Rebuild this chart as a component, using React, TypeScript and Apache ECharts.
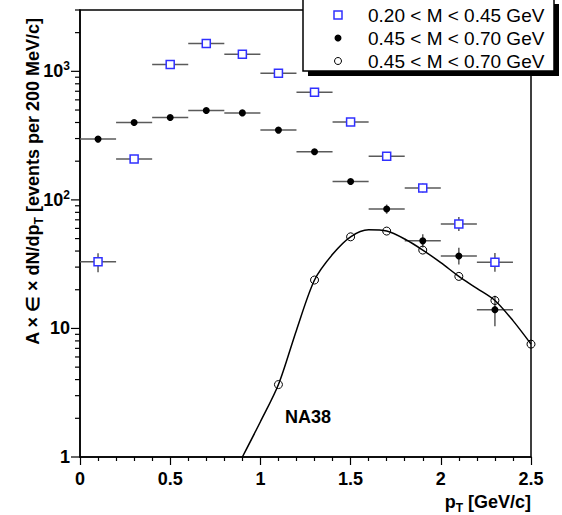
import React, { useEffect, useRef } from "react";
import * as echarts from "echarts";

// ---- data ----
const binCenters = [0.1, 0.3, 0.5, 0.7, 0.9, 1.1, 1.3, 1.5, 1.7, 1.9, 2.1, 2.3];
const binHalfWidth = 0.1;

const lowMassValues = [33, 208, 1130, 1650, 1360, 965, 688, 404, 219, 124, 65, 32.7];
const lowMassErrLo = [27.3, 200, 1100, 1610, 1330, 940, 668, 390, 210, 114, 57.3, 27.6];
const lowMassErrHi = [38.5, 216, 1160, 1690, 1390, 990, 708, 418, 228, 134, 73.7, 38.7];

const midMassValues = [297, 400, 438, 496, 475, 349, 237, 139, 85, 48, 36.6, 14];
const midMassErrLo = [290, 392, 430, 488, 467, 341, 230, 133, 78, 42.6, 31.5, 10.4];
const midMassErrHi = [304, 408, 446, 504, 483, 357, 244, 145, 92, 54.1, 42.5, 18];

const na38X = [1.1, 1.3, 1.5, 1.7, 1.9, 2.1, 2.3, 2.5];
const na38Y = [3.66, 23.8, 51.6, 57.2, 40.7, 25.4, 16.5, 7.55];

const curveX = [0.9, 1.0, 1.1, 1.2, 1.3, 1.4, 1.5, 1.6, 1.7, 1.8, 1.9, 2.0, 2.1, 2.2, 2.3, 2.4, 2.5];
const curveY = [1.0, 1.88, 3.66, 9.7, 23.8, 37.7, 51.6, 58.5, 57.2, 49.6, 40.7, 32.5, 25.4, 20.5, 16.5, 11.5, 7.55];

const yMajorTicks = [1, 10, 100, 1000];
const yMinorTicks = [
  2, 3, 4, 5, 6, 7, 8, 9,
  20, 30, 40, 50, 60, 70, 80, 90,
  200, 300, 400, 500, 600, 700, 800, 900,
  2000, 3000,
];

const legendLabels = [
  "0.20 < M < 0.45 GeV",
  "0.45 < M < 0.70 GeV",
  "0.45 < M < 0.70 GeV",
];

const xTitleParts = ["p", "T", " [GeV/c]"];
const yTitleParts = ["A × ∈ × dN/dp", "T", " [events per 200 MeV/c]"];

const FONT = "'Liberation Sans', Arial, Helvetica, sans-serif";
const BLUE = "#3030ff";

function measure(text: string, size: number): number {
  const c = document.createElement("canvas").getContext("2d");
  if (!c) return text.length * size * 0.55;
  c.font = `bold ${size}px ${FONT}`;
  return c.measureText(text).width;
}

function errorBarSeries(name: string, values: number[], lo: number[], hi: number[]) {
  return {
    name,
    type: "custom",
    clip: false,
    z: 2,
    silent: true,
    dimensions: ["x", "y", "xlo", "xhi", "ylo", "yhi"],
    encode: { x: 0, y: 1 },
    data: binCenters.map((x, i) => [x, values[i], x - binHalfWidth, x + binHalfWidth, lo[i], hi[i]]),
    renderItem: (params: any, api: any) => {
      const x = api.value(0);
      const y = api.value(1);
      const a = api.coord([api.value(2), y]);
      const b = api.coord([api.value(3), y]);
      const c = api.coord([x, api.value(4)]);
      const d = api.coord([x, api.value(5)]);
      const st = { stroke: "#5a5a5a", lineWidth: 1.5 };
      return {
        type: "group",
        children: [
          { type: "line", shape: { x1: a[0], y1: a[1], x2: b[0], y2: b[1] }, style: st },
          { type: "line", shape: { x1: c[0], y1: c[1], x2: d[0], y2: d[1] }, style: st },
        ],
      };
    },
  };
}

function yTickSeries(name: string, ticks: number[], len: number) {
  return {
    name,
    type: "custom",
    clip: false,
    silent: true,
    z: 5,
    data: ticks.map((v) => [0, v]),
    renderItem: (params: any, api: any) => {
      const p = api.coord([0, api.value(1)]);
      return {
        type: "line",
        shape: { x1: p[0] - len, y1: p[1], x2: p[0], y2: p[1] },
        style: { stroke: "#000", lineWidth: 1.2 },
      };
    },
  };
}

function boldText(text: string, size: number, extra: any) {
  return {
    type: "text",
    z: 50,
    ...extra,
    style: {
      text,
      fontSize: size,
      fontWeight: "bold",
      fontFamily: FONT,
      fill: "#000",
      textAlign: "left",
      textVerticalAlign: "middle",
    },
  };
}

export default function App() {
  const ref = useRef<HTMLDivElement>(null);

  useEffect(() => {
    if (!ref.current) return;
    const chart = echarts.init(ref.current, null, { renderer: "svg" });

    const legendX = 303;
    const rowY = [15, 38, 61];

    // x title: right end at 531, baseline center y 503
    const xw0 = measure(xTitleParts[0], 18);
    const xw1 = measure(xTitleParts[1], 12);
    const xw2 = measure(xTitleParts[2], 18);
    const xEnd = 531;
    const xTitleY = 502;
    const xStart = xEnd - xw2 - xw1 - xw0;

    // y title (rotated, reads bottom->top), top end at y 18
    const yw1 = measure(yTitleParts[1], 12);
    const yw2 = measure(yTitleParts[2], 18);
    const yTop = 18;
    const yTitleX = 33;

    const option: any = {
      animation: false,
      backgroundColor: "#fff",
      grid: {
        left: 80,
        right: 31,
        top: 10,
        bottom: 58,
        show: true,
        borderColor: "#000",
        borderWidth: 1.5,
        backgroundColor: "transparent",
      },
      xAxis: {
        type: "value",
        min: 0,
        max: 2.5,
        interval: 0.5,
        axisLine: { show: true, onZero: false, lineStyle: { color: "#000", width: 1.5 } },
        axisTick: { show: true, inside: false, length: 8, lineStyle: { color: "#000", width: 1.2 } },
        minorTick: { show: true, splitNumber: 5, length: 4, lineStyle: { color: "#000", width: 1.2 } },
        splitLine: { show: false },
        axisLabel: {
          color: "#000",
          fontSize: 18,
          fontWeight: "bold",
          fontFamily: FONT,
          margin: 13,
        },
      },
      yAxis: {
        type: "log",
        logBase: 10,
        min: 1,
        max: 3000,
        axisLine: { show: true, onZero: false, lineStyle: { color: "#000", width: 1.5 } },
        axisTick: { show: false },
        splitLine: { show: false },
        axisLabel: {
          color: "#000",
          fontSize: 18,
          fontWeight: "bold",
          fontFamily: FONT,
          margin: 10,
          lineHeight: 22,
          formatter: (v: number) => {
            if (Math.abs(v - 1) < 1e-6) return "1";
            if (Math.abs(v - 10) < 1e-6) return "10";
            if (Math.abs(v - 100) < 1e-4) return "10{sup|2}";
            if (Math.abs(v - 1000) < 1e-3) return "10{sup|3}";
            return "";
          },
          rich: {
            sup: {
              fontSize: 12,
              fontWeight: "bold",
              fontFamily: FONT,
              color: "#000",
              verticalAlign: "top",
              lineHeight: 12,
            },
          },
        },
      },
      series: [
        yTickSeries("yMajorTicks", yMajorTicks, 9),
        yTickSeries("yMinorTicks", yMinorTicks, 5),
        errorBarSeries("lowErr", lowMassValues, lowMassErrLo, lowMassErrHi),
        errorBarSeries("midErr", midMassValues, midMassErrLo, midMassErrHi),
        {
          name: "NA38 fit",
          type: "line",
          smooth: 0.3,
          showSymbol: false,
          symbol: "none",
          clip: true,
          z: 3,
          lineStyle: { color: "#000", width: 1.5 },
          data: curveX.map((x, i) => [x, curveY[i]]),
        },
        {
          name: legendLabels[0],
          type: "scatter",
          symbol: "rect",
          symbolSize: 8,
          z: 4,
          itemStyle: { color: "#fff", borderColor: BLUE, borderWidth: 1.5, opacity: 1 },
          data: binCenters.map((x, i) => [x, lowMassValues[i]]),
        },
        {
          name: legendLabels[1],
          type: "scatter",
          symbol: "circle",
          symbolSize: 7,
          z: 4,
          itemStyle: { color: "#000", opacity: 1 },
          data: binCenters.map((x, i) => [x, midMassValues[i]]),
        },
        {
          name: "NA38",
          type: "scatter",
          symbol: "circle",
          symbolSize: 8,
          z: 4,
          itemStyle: { color: "transparent", borderColor: "#000", borderWidth: 1, opacity: 1 },
          data: na38X.map((x, i) => [x, na38Y[i]]),
        },
      ],
      graphic: [
        {
          type: "rect",
          z: 100,
          shape: { x: legendX + 5, y: 4, width: 251, height: 72 },
          style: { fill: "#000" },
        },
        {
          type: "rect",
          z: 101,
          shape: { x: legendX, y: -1, width: 251, height: 72 },
          style: { fill: "#fff", stroke: "#000", lineWidth: 1.5 },
        },
        {
          type: "rect",
          z: 102,
          shape: { x: 338 - 4, y: rowY[0] - 4, width: 8, height: 8 },
          style: { fill: "#fff", stroke: BLUE, lineWidth: 1.5 },
        },
        {
          type: "circle",
          z: 102,
          shape: { cx: 338, cy: rowY[1], r: 3.5 },
          style: { fill: "#000" },
        },
        {
          type: "circle",
          z: 102,
          shape: { cx: 338, cy: rowY[2], r: 3.5 },
          style: { fill: "transparent", stroke: "#000", lineWidth: 1 },
        },
        ...legendLabels.map((t, i) => ({
          type: "text",
          z: 102,
          x: 368,
          y: rowY[i],
          style: {
            text: t,
            fontSize: 19,
            fontFamily: FONT,
            fill: "#000",
            textAlign: "left",
            textVerticalAlign: "middle",
          },
        })),
        boldText("NA38", 18, { x: 285, y: 417 }),
        // x axis title
        boldText(xTitleParts[0], 18, { x: xStart, y: xTitleY }),
        boldText(xTitleParts[1], 12, { x: xStart + xw0, y: xTitleY + 6 }),
        boldText(xTitleParts[2], 18, { x: xStart + xw0 + xw1, y: xTitleY }),
        // y axis title (rotated)
        boldText(yTitleParts[2], 18, {
          x: yTitleX,
          y: yTop + yw2,
          rotation: Math.PI / 2,
        }),
        boldText(yTitleParts[1], 12, {
          x: yTitleX + 6,
          y: yTop + yw2 + yw1,
          rotation: Math.PI / 2,
        }),
        {
          ...boldText(yTitleParts[0], 18, {
            x: yTitleX,
            y: yTop + yw2 + yw1,
            rotation: Math.PI / 2,
          }),
        },
      ].map((g: any) => g),
    };
    // the first y-title part ends where the subscript starts: right-align it
    const last = option.graphic[option.graphic.length - 1];
    last.style.textAlign = "right";

    chart.setOption(option);
    return () => chart.dispose();
  }, []);

  return (
    <div
      ref={ref}
      style={{ position: "fixed", left: 0, top: 0, width: 562, height: 515, background: "#fff" }}
    />
  );
}
